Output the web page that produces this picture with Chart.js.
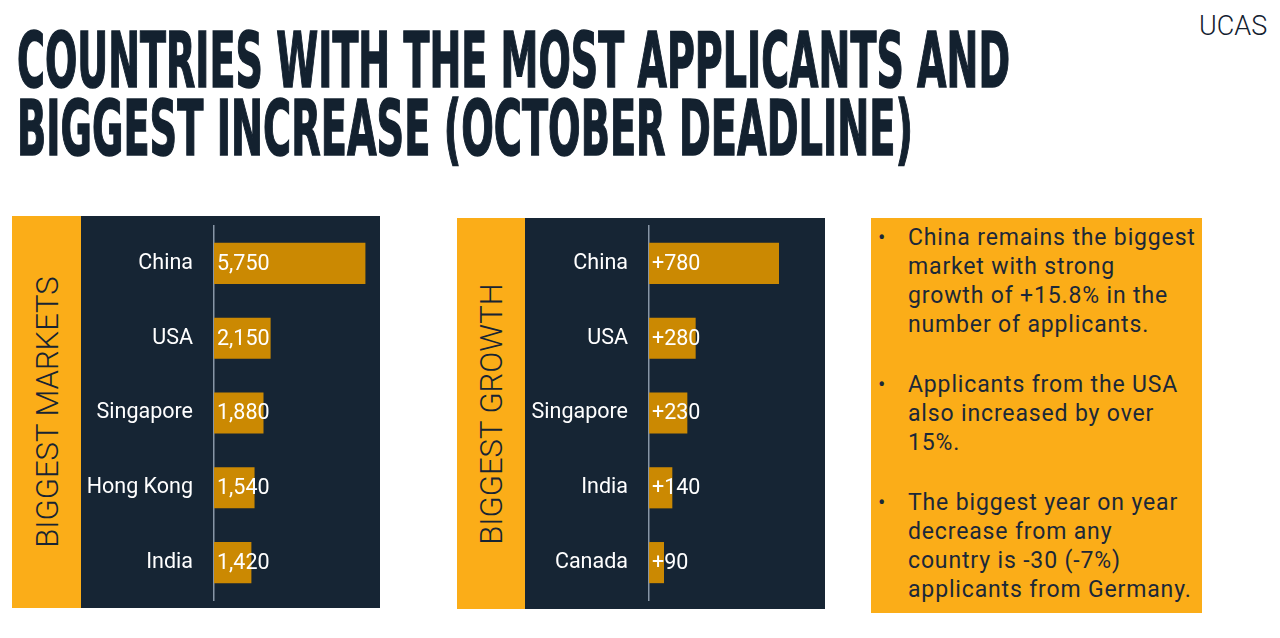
<!DOCTYPE html>
<html>
<head>
<meta charset="utf-8">
<script src="https://cdn.jsdelivr.net/npm/chart.js@4"></script>
<style>
  html, body { margin: 0; padding: 0; background: #fff; }
  body { width: 1280px; height: 638px; position: relative; overflow: hidden; font-family: Roboto, sans-serif; }
  .title { position: absolute; left: 17px; color: #13212f; font-family: "Liberation Sans Narrow", "DejaVu Sans Condensed", sans-serif;
           font-weight: bold; font-size: 76px; line-height: 76px; white-space: nowrap; transform-origin: 0 0;
           -webkit-text-stroke: 1.5px #13212f; }
  .logo { position: absolute; left: 1199px; top: 10px; font-family: Roboto, sans-serif; font-weight: 300; font-size: 27px; color: #13212f; }
  .strip { position: absolute; background: #fbad18; }
  .strip span { position: absolute; left: 50%; top: 50%; transform: translate(-50%, -50%) rotate(-90deg);
                white-space: nowrap; font-family: Roboto, sans-serif; font-weight: 300; font-size: 31px; color: #172433; }
  .panel { position: absolute; background: #162534; }
  .panel canvas { position: absolute; left: 0; top: 0; }
  .notes { position: absolute; left: 871px; top: 218px; width: 331px; height: 395px; background: #fbad18; color: #1b2838;
           font-family: Roboto, sans-serif; font-size: 23px; line-height: 29px; letter-spacing: 0.85px; white-space: nowrap; }
  .notes ul { margin: 0; padding: 5px 0 0 0; list-style: none; }
  .notes li { position: relative; padding-left: 37px; margin-bottom: 31px; }
  .notes li::before { content: "\2022"; position: absolute; left: 7px; top: 0; font-size: 22px; }
</style>
</head>
<body>
<div class="title" id="t1">COUNTRIES WITH THE MOST APPLICANTS AND</div>
<div class="title" id="t2">BIGGEST INCREASE (OCTOBER DEADLINE)</div>
<div class="logo">UCAS</div>

<div class="strip" style="left:12px;top:216px;width:69px;height:392px;"><span>BIGGEST MARKETS</span></div>
<div class="panel" style="left:81px;top:216px;width:299px;height:392px;"><canvas id="marketsChart" width="299" height="392"></canvas></div>

<div class="strip" style="left:457px;top:218px;width:68px;height:391px;"><span>BIGGEST GROWTH</span></div>
<div class="panel" style="left:525px;top:218px;width:300px;height:391px;"><canvas id="growthChart" width="300" height="391"></canvas></div>

<div class="notes">
  <ul>
    <li>China remains the biggest<br>market with strong<br>growth of +15.8% in the<br>number of applicants.</li>
    <li>Applicants from the USA<br>also increased by over<br>15%.</li>
    <li>The biggest year on year<br>decrease from any<br>country is -30 (-7%)<br>applicants from Germany.</li>
  </ul>
</div>

<script>
const marketCountries = ["China", "USA", "Singapore", "Hong Kong", "India"];
const marketApplicants = [5750, 2150, 1880, 1540, 1420];

const growthCountries = ["China", "USA", "Singapore", "India", "Canada"];
const growthApplicants = [780, 280, 230, 140, 90];

const BAR_COLOR = "#cb8902";

// fit the title lines to their widths in the slide
function fitTitle(id, top, width) {
  const el = document.getElementById(id);
  el.style.top = top + "px";
  const natural = el.getBoundingClientRect().width;
  el.style.transform = `scale(${width / natural}, 1)`;
}
fitTitle("t1", 23, 993);
fitTitle("t2", 91, 896);

const valueLabels = {
  id: "valueLabels",
  afterDatasetsDraw(chart, args, opts) {
    const ctx = chart.ctx;
    const meta = chart.getDatasetMeta(0);
    ctx.save();
    ctx.fillStyle = "#ffffff";
    ctx.font = "21.5px Roboto";
    ctx.textBaseline = "middle";
    ctx.textAlign = "left";
    meta.data.forEach((bar, i) => {
      ctx.fillText(opts.format(chart.data.datasets[0].data[i]), bar.base + 3, bar.y + 1);
    });
    ctx.restore();
  },
};

function renderBars(canvasId, labels, values, xMax, labelWidth, pad, format) {
  new Chart(document.getElementById(canvasId), {
    type: "bar",
    data: {
      labels,
      datasets: [{ data: values, backgroundColor: BAR_COLOR, barPercentage: 0.55, categoryPercentage: 1 }],
    },
    options: {
      indexAxis: "y",
      responsive: false,
      animation: false,
      layout: { padding: pad },
      plugins: { legend: { display: false }, tooltip: { enabled: false }, valueLabels: { format } },
      scales: {
        x: { display: false, min: 0, max: xMax },
        y: {
          grid: { display: false, drawTicks: false },
          border: { display: true, color: "#8796a6", width: 1.5 },
          ticks: { color: "#ffffff", font: { family: "Roboto", size: 21.5 }, padding: 21 },
          afterFit: (scale) => {
            scale.width = labelWidth;
            scale.paddingTop = 0;
            scale.paddingBottom = 0;
          },
        },
      },
    },
    plugins: [valueLabels],
  });
}

const fmt = new Intl.NumberFormat("en-US");
renderBars("marketsChart", marketCountries, marketApplicants, 6000, 133,
  { top: 10, bottom: 8, left: 0, right: 8 }, (v) => fmt.format(v));
renderBars("growthChart", growthCountries, growthApplicants, 900, 124,
  { top: 8, bottom: 9, left: 0, right: 26 }, (v) => "+" + fmt.format(v));
</script>
</body>
</html>
